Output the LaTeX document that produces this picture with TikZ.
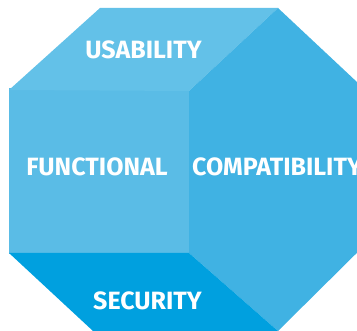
\documentclass[tikz,border=0pt]{standalone}
\usepackage{fontspec}
\setmainfont{Fira Sans}
\definecolor{topc}{RGB}{99,193,232}
\definecolor{frontc}{RGB}{90,188,230}
\definecolor{rightc}{RGB}{64,178,227}
\definecolor{botc}{RGB}{0,160,223}
\tikzset{lbl/.style={text=white,font=\fontsize{25}{27}\selectfont\bfseries,inner sep=0pt}}
\begin{document}
\begin{tikzpicture}[x=1pt,y=-1pt]
\useasboundingbox (0,0) rectangle (357,331);
\clip (0,0) rectangle (357,331);
\fill[frontc] (9,88) -- (189,88) -- (189,254) -- (9,254) -- cycle;
\fill[topc] (100,8) -- (278,8) -- (189,91) -- (9,90) -- cycle;
\fill[rightc] (278,8) -- (380,103.6) -- (380,230) -- (278,331) -- (189,253) -- (189,91) -- cycle;
\fill[botc] (9,253) -- (189,253) -- (278,331) -- (93,331) -- cycle;
\node[lbl] (usab) at (143.5,50) {USABILITY};
\node[lbl] (func) at (97,167) {FUNCTIONAL};
\node[lbl,anchor=west] (comp) at (192,167) {COMPATIBILITY};
\node[lbl] (secu) at (147.5,301) {SECURITY};
\end{tikzpicture}
\end{document}
